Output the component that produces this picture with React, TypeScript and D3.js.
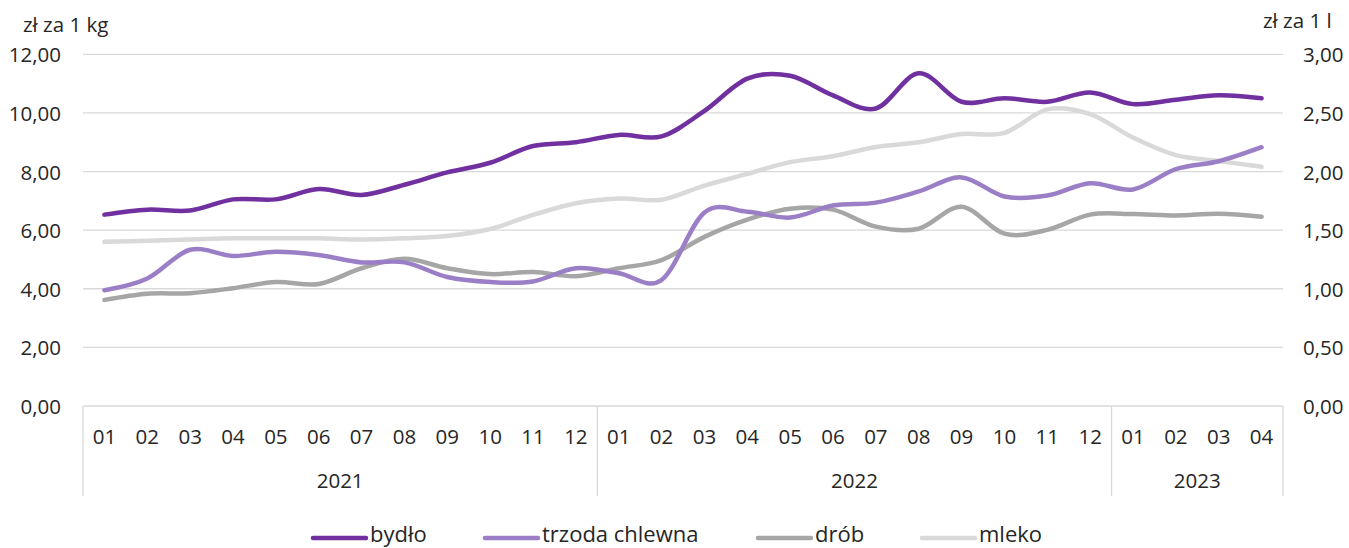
import React from "react";
import * as d3 from "d3";

const months = ["01","02","03","04","05","06","07","08","09","10","11","12","01","02","03","04","05","06","07","08","09","10","11","12","01","02","03","04"];
const years = [{ label: "2021", n: 12 }, { label: "2022", n: 12 }, { label: "2023", n: 4 }];
const bydlo = [6.53,6.7,6.67,7.05,7.05,7.4,7.2,7.55,7.97,8.3,8.87,9.0,9.25,9.2,10.07,11.17,11.27,10.6,10.15,11.35,10.38,10.5,10.38,10.7,10.3,10.45,10.6,10.5];
const trzoda = [3.95,4.35,5.33,5.12,5.26,5.15,4.9,4.9,4.4,4.23,4.25,4.7,4.53,4.3,6.6,6.63,6.43,6.84,6.94,7.32,7.8,7.15,7.18,7.6,7.39,8.08,8.35,8.83];
const drob = [3.62,3.83,3.85,4.02,4.23,4.16,4.7,5.02,4.7,4.5,4.57,4.43,4.7,4.98,5.77,6.36,6.73,6.7,6.12,6.05,6.8,5.88,6.01,6.53,6.55,6.5,6.56,6.46];
const mleko = [1.4,1.41,1.42,1.43,1.43,1.43,1.42,1.43,1.45,1.51,1.63,1.73,1.77,1.76,1.88,1.98,2.08,2.13,2.21,2.25,2.32,2.33,2.53,2.49,2.29,2.14,2.09,2.04];
const leftTicks = [0,2,4,6,8,10,12];
const rightTicks = [0,0.5,1,1.5,2,2.5,3];
const seriesNames = ["bydło","trzoda chlewna","drób","mleko"];
const colors = ["#7030a0","#9b7fc6","#a6a6a6","#d9d9d9"];

const W = 1349, H = 548;
const L = 83, R = 1283, T = 54.3, B = 406;
const FONT = "'Open Sans', 'Liberation Sans', Arial, sans-serif";
const FS = 20.5;
const LFS = 22;
const TXT = "#262626";

export default function App() {
  const x = d3.scaleBand<number>().domain(d3.range(months.length)).range([L, R]);
  const yL = d3.scaleLinear().domain([0, 12]).range([B, T]);
  const yR = d3.scaleLinear().domain([0, 3]).range([B, T]);
  const fmt = (v: number) => d3.format(".2f")(v).replace(".", ",");
  const cx = (i: number) => (x(i) as number) + x.bandwidth() / 2;
  const lineL = d3.line<number>().x((_, i) => cx(i)).y(d => yL(d)).curve(d3.curveCardinal.tension(0));
  const lineR = d3.line<number>().x((_, i) => cx(i)).y(d => yR(d)).curve(d3.curveCardinal.tension(0));

  const seps: number[] = [];
  let acc = 0;
  seps.push(x(0) as number);
  years.forEach(y => { acc += y.n; seps.push(acc < months.length ? (x(acc) as number) : R); });

  const legendX = [313, 485, 758, 922];

  return (
    <svg width={W} height={H} style={{ position: "absolute", left: 0, top: 0, background: "#fff" }} fontFamily={FONT}>
      {leftTicks.slice(1).map(t => (
        <line key={t} x1={L} x2={R} y1={yL(t)} y2={yL(t)} stroke="#d9d9d9" strokeWidth={1.3} />
      ))}
      <line x1={L} x2={R} y1={B} y2={B} stroke="#d9d9d9" strokeWidth={1.3} />
      {seps.map((s, i) => (
        <line key={i} x1={s} x2={s} y1={B} y2={496} stroke="#d9d9d9" strokeWidth={1.3} />
      ))}
      {leftTicks.map(t => (
        <text key={t} x={61} y={yL(t) + 8} textAnchor="end" fontSize={FS} fill={TXT}>{fmt(t)}</text>
      ))}
      {rightTicks.map(t => (
        <text key={t} x={1303} y={yR(t) + 8} textAnchor="start" fontSize={FS} fill={TXT}>{fmt(t)}</text>
      ))}
      <text x={23} y={32} fontSize={FS} fill={TXT}>zł za 1 kg</text>
      <text x={1263} y={28} fontSize={FS} fill={TXT}>zł za 1 l</text>
      {months.map((m, i) => (
        <text key={i} x={cx(i)} y={444} textAnchor="middle" fontSize={FS} fill={TXT}>{m}</text>
      ))}
      {(() => {
        let start = 0;
        return years.map(y => {
          const x0 = x(start) as number;
          const x1 = start + y.n < months.length ? (x(start + y.n) as number) : R;
          start += y.n;
          return <text key={y.label} x={(x0 + x1) / 2} y={488} textAnchor="middle" fontSize={FS} fill={TXT}>{y.label}</text>;
        });
      })()}
      <path d={lineR(mleko) || ""} fill="none" stroke={colors[3]} strokeWidth={4.5} strokeLinecap="round" />
      <path d={lineL(drob) || ""} fill="none" stroke={colors[2]} strokeWidth={4.5} strokeLinecap="round" />
      <path d={lineL(trzoda) || ""} fill="none" stroke={colors[1]} strokeWidth={4.5} strokeLinecap="round" />
      <path d={lineL(bydlo) || ""} fill="none" stroke={colors[0]} strokeWidth={4.5} strokeLinecap="round" />
      {seriesNames.map((n, i) => (
        <g key={n}>
          <line x1={legendX[i]} x2={legendX[i] + 53} y1={538} y2={538} stroke={colors[i]} strokeWidth={4.5} strokeLinecap="round" />
          <text x={legendX[i] + 57} y={542} fontSize={LFS} fill={TXT}>{n}</text>
        </g>
      ))}
    </svg>
  );
}
